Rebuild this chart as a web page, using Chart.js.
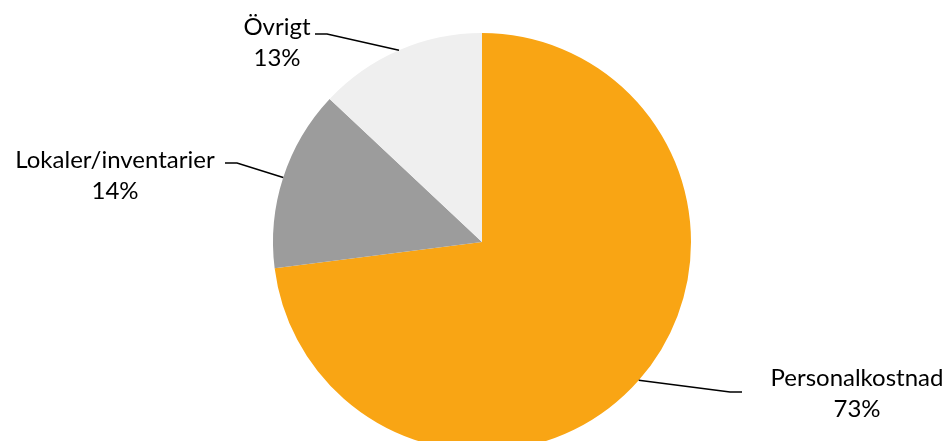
<!DOCTYPE html>
<html>
<head>
<meta charset="utf-8">
<script src="https://cdn.jsdelivr.net/npm/chart.js@4/dist/chart.umd.min.js"></script>
<style>
  html, body { margin: 0; padding: 0; background: #fff; overflow: hidden; }
  #wrap { width: 949px; height: 470px; position: relative; }
</style>
</head>
<body>
<div id="wrap"><canvas id="pie-chart"></canvas></div>
<script>
var kategorier = ["Personalkostnad", "Lokaler/inventarier", "Övrigt"];
var andelar = [73, 14, 13];
var farger = ["#F9A514", "#9C9C9C", "#EFEFEF"];

// var etikett: textens mittpunkt (x, y för första raden) och var linjen knäcks
var etiketter = [
  { tx: 857, ty: 378, kx: 742, ky: 392, ex: 730 },
  { tx: 115, ty: 160, kx: 225, ky: 163, ex: 237 },
  { tx: 277, ty: 27, kx: 315, ky: 34, ex: 327 }
];

var ledarLinjer = {
  id: 'ledarLinjer',
  afterDatasetsDraw: function(chart) {
    var ctx = chart.ctx;
    var meta = chart.getDatasetMeta(0);
    ctx.save();
    meta.data.forEach(function(arc, i) {
      var p = arc.getProps(['x', 'y', 'startAngle', 'endAngle', 'outerRadius'], true);
      var mid = (p.startAngle + p.endAngle) / 2;
      var ax = p.x + Math.cos(mid) * p.outerRadius;
      var ay = p.y + Math.sin(mid) * p.outerRadius;
      var e = etiketter[i];
      ctx.strokeStyle = "#000";
      ctx.lineWidth = 1.5;
      ctx.beginPath();
      ctx.moveTo(ax, ay);
      ctx.lineTo(e.ex, e.ky);
      ctx.lineTo(e.kx, e.ky);
      ctx.stroke();
      ctx.fillStyle = "#000";
      ctx.font = "24px Lato";
      ctx.textAlign = "center";
      ctx.textBaseline = "middle";
      ctx.fillText(kategorier[i], e.tx, e.ty);
      ctx.fillText(andelar[i] + "%", e.tx, e.ty + 31);
    });
    ctx.restore();
  }
};

new Chart(document.getElementById("pie-chart"), {
  type: 'pie',
  data: {
    labels: kategorier,
    datasets: [{
      data: andelar,
      backgroundColor: farger,
      borderWidth: 0
    }]
  },
  options: {
    responsive: true,
    maintainAspectRatio: false,
    animation: false,
    layout: { padding: { top: 33, bottom: 19, left: 273, right: 258 } },
    plugins: {
      legend: { display: false },
      tooltip: { enabled: false }
    }
  },
  plugins: [ledarLinjer]
});
</script>
</body>
</html>
